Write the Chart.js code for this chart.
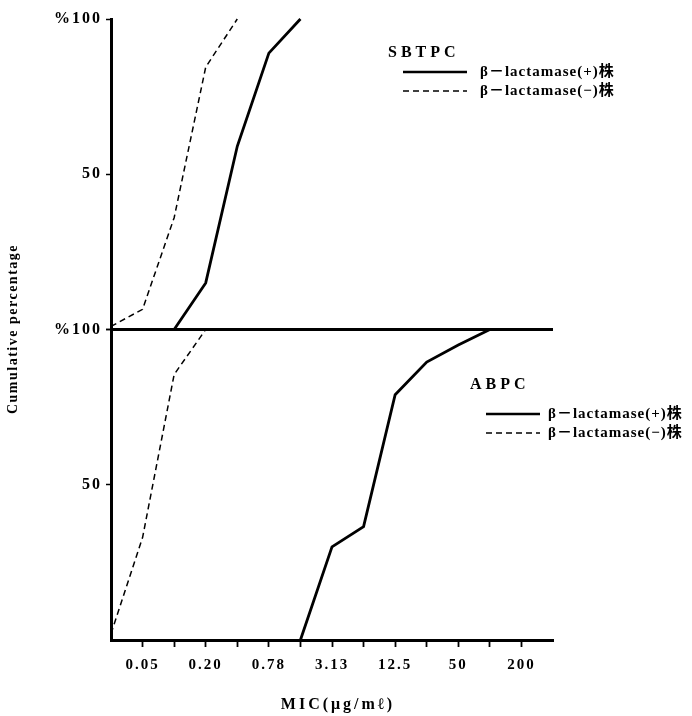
<!DOCTYPE html>
<html>
<head>
<meta charset="utf-8">
<script src="https://cdn.jsdelivr.net/npm/chart.js@4.4.1/dist/chart.umd.min.js"></script>
<style>
  html, body { margin: 0; padding: 0; background: #fff; }
  #wrap { position: relative; width: 692px; height: 716px; }
</style>
</head>
<body>
<div id="wrap"><canvas id="mic-chart"></canvas></div>
<script>
// ── Données ──────────────────────────────────────────────────────────
const micSteps     = ['0.025', '0.05', '0.10', '0.20', '0.39', '0.78', '1.56', '3.13', '6.25', '12.5', '25', '50', '100', '200', '400'];
const xTickLabels  = ['0.05', '0.20', '0.78', '3.13', '12.5', '50', '200'];
const sbtpcPos     = [null, null, 0, 15, 59, 89, 100];
const sbtpcNeg     = [1, 6.5, 36, 84.5, 100];
const abpcPos      = [null, null, null, null, null, null, 0, 30, 36.5, 79, 89.5, 95, 100];
const abpcNeg      = [2, 33, 85.5, 100];
const legendPos    = 'β－lactamase(+)株';
const legendNeg    = 'β－lactamase(−)株';

const SERIF = "'Liberation Serif', 'DejaVu Serif', 'Noto Sans CJK JP', serif";
const INK   = '#000';

// ── Légendes, titres d'axes ──────────────────────────────────────────
function drawLegend(ctx, title, tx, ty, lx0, lx1, yPos, yNeg, textX) {
  ctx.save();
  ctx.fillStyle = INK;
  ctx.strokeStyle = INK;
  ctx.textBaseline = 'middle';
  ctx.textAlign = 'left';
  ctx.letterSpacing = '4px';
  ctx.font = `bold 16px ${SERIF}`;
  ctx.fillText(title, tx, ty);

  ctx.letterSpacing = '1px';
  ctx.font = `bold 15px ${SERIF}`;
  ctx.lineWidth = 2.5;
  ctx.setLineDash([]);
  ctx.beginPath(); ctx.moveTo(lx0, yPos); ctx.lineTo(lx1, yPos); ctx.stroke();
  ctx.fillText(legendPos, textX, yPos);

  ctx.lineWidth = 1.5;
  ctx.setLineDash([6, 4]);
  ctx.beginPath(); ctx.moveTo(lx0, yNeg); ctx.lineTo(lx1, yNeg); ctx.stroke();
  ctx.fillText(legendNeg, textX, yNeg);
  ctx.restore();
}

const decorPlugin = {
  id: 'decor',
  beforeDraw(chart) {
    chart.ctx.letterSpacing = '2px';
  },
  beforeDatasetsDraw(chart) {
    chart.ctx.letterSpacing = '0px';
  },
  afterDraw(chart) {
    const ctx = chart.ctx;
    drawLegend(ctx, 'SBTPC', 388, 53, 403, 467, 72, 91, 480);
    drawLegend(ctx, 'ABPC', 470, 385, 486, 540, 414, 433, 548);

    ctx.save();
    ctx.fillStyle = INK;
    ctx.textAlign = 'center';
    ctx.textBaseline = 'middle';
    ctx.font = `bold 16px ${SERIF}`;
    ctx.letterSpacing = '3px';
    ctx.fillText('MIC(μg/mℓ)', 338, 705);

    ctx.translate(13, 329);
    ctx.rotate(-Math.PI / 2);
    ctx.font = `bold 14px ${SERIF}`;
    ctx.letterSpacing = '1.5px';
    ctx.fillText('Cumulative percentage', 0, 0);
    ctx.restore();
  },
};

// ── Axes ─────────────────────────────────────────────────────────────
const tickFont = { family: SERIF, size: 16, weight: 'bold' };

function yPanel(showZeroLine) {
  return {
    type: 'linear',
    position: 'left',
    stack: 'panels',
    min: 0,
    max: 100,
    ticks: {
      stepSize: 50,
      color: INK,
      font: tickFont,
      padding: 4,
      callback: (v) => (v === 100 ? '%100' : v === 50 ? '50' : ''),
    },
    grid: {
      color: (c) => (showZeroLine && c.tick && c.tick.value === 0 ? INK : 'rgba(0,0,0,0)'),
      lineWidth: (c) => (showZeroLine && c.tick && c.tick.value === 0 ? 3 : 1),
      tickColor: (c) => (c.tick && c.tick.value === 0 && !showZeroLine ? 'rgba(0,0,0,0)' : INK),
      tickLength: 5,
      tickWidth: 1.5,
    },
    border: { color: INK, width: 3 },
    afterFit: (scale) => { scale.width = 111; },
  };
}

function line(data, axis, dashed) {
  return {
    data,
    yAxisID: axis,
    borderColor: INK,
    borderWidth: dashed ? 1.5 : 2.8,
    borderDash: dashed ? [6, 4] : [],
    pointRadius: 0,
    tension: 0,
    fill: false,
    clip: false,
  };
}

new Chart(document.getElementById('mic-chart'), {
  type: 'line',
  data: {
    labels: micSteps,
    datasets: [
      line(sbtpcPos, 'yTop', false),
      line(sbtpcNeg, 'yTop', true),
      line(abpcPos, 'yBot', false),
      line(abpcNeg, 'yBot', true),
    ],
  },
  options: {
    responsive: true,
    maintainAspectRatio: false,
    animation: false,
    layout: { padding: { top: 19, right: 139, bottom: 0, left: 0 } },
    plugins: { legend: { display: false }, tooltip: { enabled: false } },
    scales: {
      x: {
        type: 'category',
        offset: false,
        ticks: {
          color: INK,
          font: { family: SERIF, size: 15, weight: 'bold' },
          padding: 9,
          autoSkip: false,
          maxRotation: 0,
          callback: (v, i) => (xTickLabels.includes(micSteps[i]) ? micSteps[i] : ''),
        },
        grid: {
          drawOnChartArea: false,
          color: (c) => (c.index === 0 || c.index === micSteps.length - 1 ? 'rgba(0,0,0,0)' : INK),
          tickLength: 7,
          tickWidth: 1.8,
        },
        border: { color: INK, width: 3 },
        afterFit: (scale) => { scale.height = 76; },
      },
      yBot: yPanel(false),
      yTop: yPanel(true),
    },
  },
  plugins: [decorPlugin],
});
</script>
</body>
</html>
